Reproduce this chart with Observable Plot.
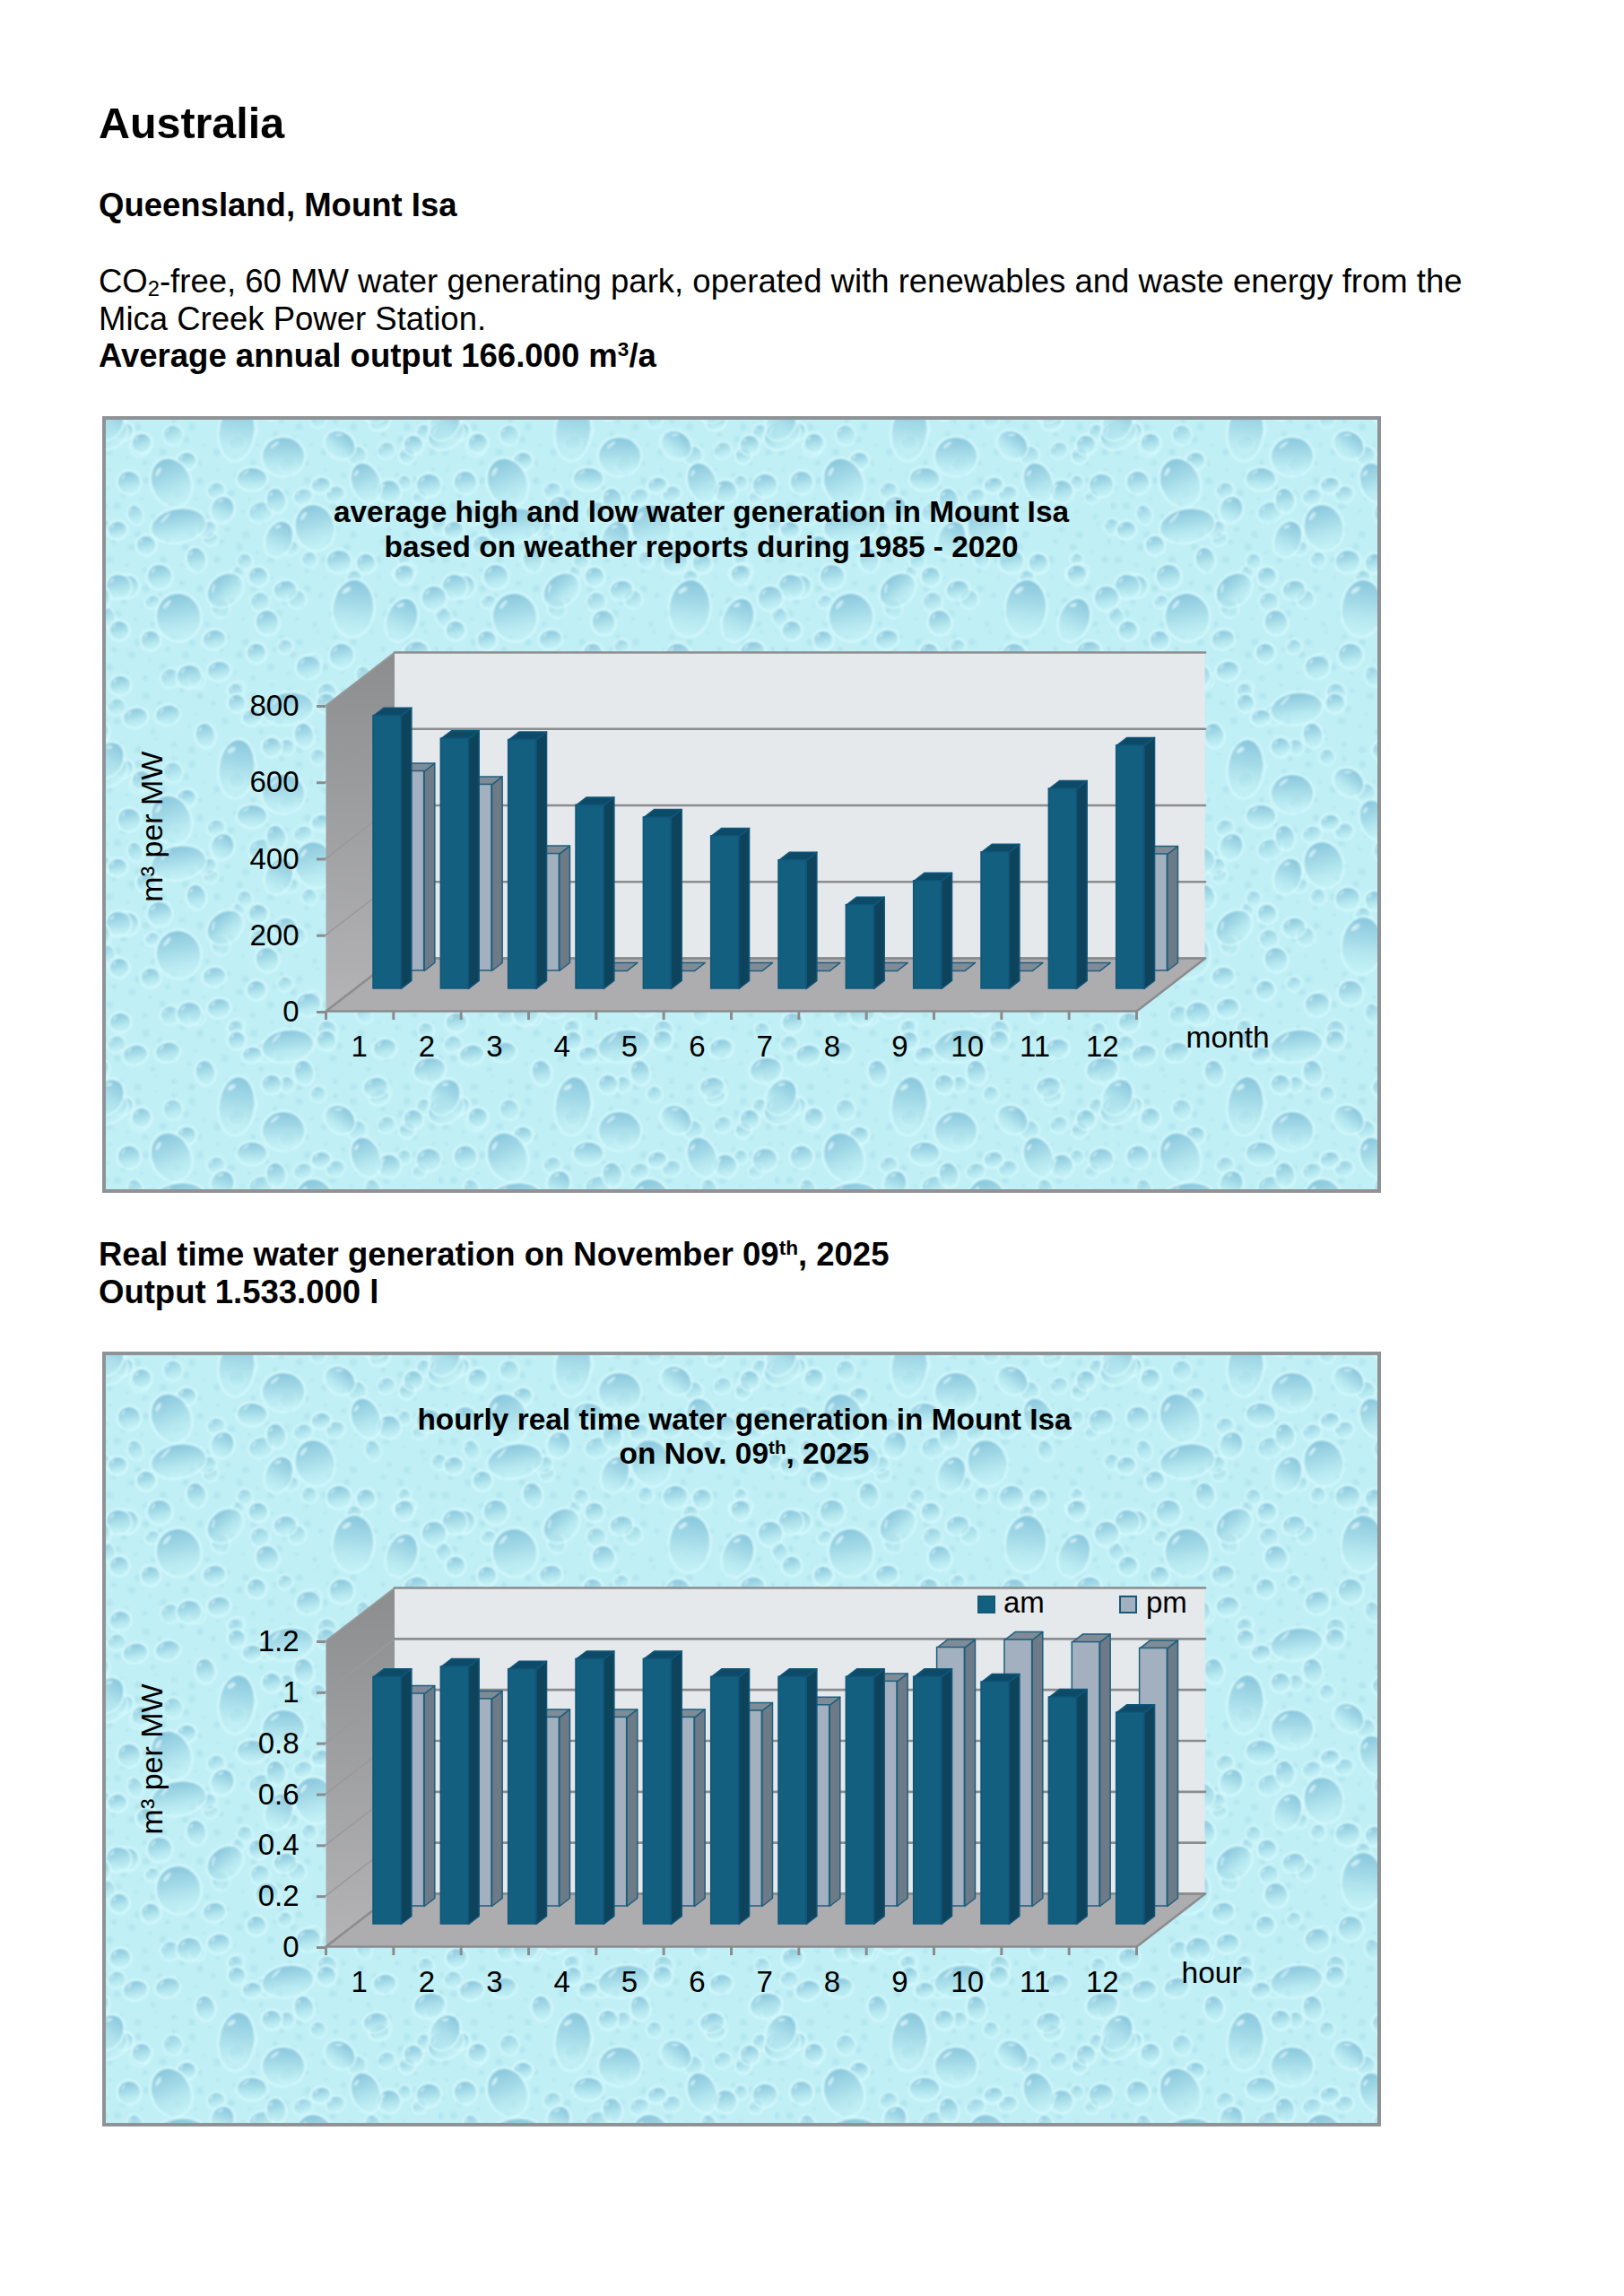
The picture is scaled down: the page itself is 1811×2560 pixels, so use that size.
<!DOCTYPE html>
<html><head><meta charset="utf-8">
<script src="https://cdn.jsdelivr.net/npm/d3@7"></script>
<script src="https://cdn.jsdelivr.net/npm/@observablehq/plot@0.6"></script>
<style>
html,body{margin:0;padding:0;background:#fff;color:#000;font-family:"Liberation Sans",Arial,sans-serif}
#page{position:relative;width:1811px;height:2560px;overflow:hidden}
.t{position:absolute;left:110px;white-space:nowrap;line-height:1;transform:translateY(-0.845em)}
.b{font-weight:bold}
.sup{font-size:.62em;position:relative;top:-.55em}
.sub{font-size:.65em;position:relative;top:.2em}
.frame{position:absolute;left:114px;width:1426px;box-sizing:border-box;border:4px solid #8f9396;overflow:hidden}
.frame .inner{position:absolute;left:-4px;top:-4px;width:1426px;height:866px}
.frame svg{position:absolute;left:0;top:0;background:transparent;overflow:visible}
.ct{position:absolute;font-weight:bold;font-size:33.4px;line-height:38.5px;text-align:center;white-space:nowrap;transform:translateX(-50%)}
.lg{position:absolute;width:20px;height:20px;box-sizing:border-box;border:2px solid #145a78}
.lt{position:absolute;font-size:33px;line-height:1;white-space:nowrap}
</style></head><body><div id="page"></div>
<script>
// --- data ---
const months = [1,2,3,4,5,6,7,8,9,10,11,12];
const highValues = [714,654,651,480,448,399,336,219,282,357,523,636];
const lowValues  = [522,487,306,0,0,0,0,0,0,0,0,305];
const monthTicks = [0,200,400,600,800];

const hours = [1,2,3,4,5,6,7,8,9,10,11,12];
const amValues = [0.97,1.01,1.00,1.04,1.04,0.97,0.97,0.97,0.97,0.95,0.89,0.83];
const pmValues = [0.834,0.813,0.741,0.741,0.741,0.767,0.789,0.882,1.015,1.045,1.036,1.012];
const hourTicks = [0,0.2,0.4,0.6,0.8,1,1.2];

const colors = {
  wallBack:"#e6e9ec", floor:"#adadb0", grid:"#8b8c8e",
  amFront:"#135f80", amSide:"#0e435c", amTop:"#0d4a68", amStroke:"#11567a",
  pmFront:"#a3b0bf", pmSide:"#6d7a88", pmTop:"#7f8c97", pmStroke:"#1f5f7c"
};

// --- water-drop wallpaper (decoration only) ---
const bigDrops = [[150,17,19,32,6],[202,45,23,21,0],[77,74,21,27,-22],[265,32,17,14,35],[294,74,15,22,-20],[85,122,30,18,-10],
[237,124,21,25,-15],[197,137,14,20,22],[85,224,24,26,-10],[280,214,22,31,5],[137,194,21,16,-40],[167,70,16,12,0],[134,104,12,14,20],
[334,227,16,24,20],[8,20,20,15,-30],[207,326,28,17,-8],[7,7,15,20,30]];
const midDrops = [[94,50,10,9],[24,17,10,9],[30,74,12,12],[17,127,10,9],[44,30,10,10],[49,144,10,10],[105,160,10,13],[64,179,13,13],
[27,190,13,12],[19,239,10,10],[54,250,10,10],[125,249,12,10],[184,230,12,13],[204,194,12,10],[174,179,10,10],[150,30,8,8],[264,162,13,12],
[294,164,10,10],[337,174,12,8],[364,77,13,12],[320,84,12,12],[340,44,8,8],[309,7,10,8],[244,77,10,8],[194,94,10,13],[347,32,10,10],
[393,190,13,13],[370,203,13,13],[337,177,10,10],[172,264,10,10],[230,280,13,12],[267,267,13,13],[130,284,12,10],[97,290,13,12],[365,353,17,13],
[115,356,10,13],[37,336,13,10],[73,333,13,10],[315,329,12,10],[167,336,10,8],[189,369,10,10],[225,356,10,13],[305,372,13,10],[350,262,13,10],[250,320,10,10],[20,300,11,10],[150,320,9,9]];
function dropSvg(list){
  return list.map(([x,y,rx,ry,r=-12]) => {
    let out = "";
    for (const ox of [0,-375,375]) for (const oy of [0,-376,376]) {
      const cx=x+ox, cy=y+oy;
      if (cx<-40||cx>415||cy<-40||cy>416) continue;
      out += `<g transform="translate(${cx} ${cy}) rotate(${r})"><ellipse rx="${rx+1.5}" ry="${ry+1.5}" fill="none" stroke="#d8fbfd" stroke-width="2.4" opacity=".75"/><ellipse rx="${rx}" ry="${ry}" fill="url(#d)"/>`
        + `<ellipse cx="${-rx*.42}" cy="${-ry*.62}" rx="${Math.max(1.8,rx*.26)}" ry="${Math.max(1,ry*.08)}" transform="rotate(-38 ${-rx*.42} ${-ry*.62})" fill="#f0ffff" opacity=".6"/></g>`;
    }
    return out;
  }).join("");
}
const fillDrops = midDrops.map(([x,y,rx,ry]) => [(x+187)%375,(y+130)%376,rx*.75,ry*.8,-20]);
const tiny = [];
for (let i=0;i<19;i++) for (let j=0;j<19;j++) tiny.push(`<circle cx="${(i*20+(j%2)*9+(j%3)*4)%375}" cy="${(j*20+(i%3)*6)%376}" r="${1.6+((i+j)%3)*1.1}" fill="#9bd6e4" opacity=".35"/>`);
const tile = `<svg xmlns="http://www.w3.org/2000/svg" width="375" height="376" viewBox="0 0 375 376"><defs><filter id="b" x="-5%" y="-5%" width="110%" height="110%"><feGaussianBlur stdDeviation="1"/></filter><linearGradient id="d" x1="0" y1="0" x2="0" y2="1"><stop offset="0" stop-color="#8ac7dd"/><stop offset=".5" stop-color="#aadfea"/><stop offset="1" stop-color="#c4f2f7" stop-opacity=".4"/></linearGradient></defs><rect width="375" height="376" fill="#c0eff5"/><g filter="url(#b)">${tiny.join("")}<g opacity=".75">${dropSvg(fillDrops)}</g>${dropSvg(midDrops)}${dropSvg(bigDrops)}</g></svg>`;
const texture = `url("data:image/svg+xml,${encodeURIComponent(tile)}")`;

// --- oblique 3-D projection expressed in scale units ---
function chart({cats, front, back, ticks, yMax, yLabel, yLabelAt, xLabel, xLabelDx, top, frameH}) {
  const kx = 1.0155, ky = yMax * 59/341;
  const P = (c,v,z) => ({x:c+z*kx, y:v+z*ky});
  const poly = (id,pts) => pts.map(p => ({id, x:p.x, y:p.y}));
  const barLeft = .273, barW = .408;
  const faces = (vals, z0, z1) => {
    const side=[], topF=[], fr=[];
    vals.forEach((v,i) => {
      const a=i+barLeft, b=a+barW;
      side.push(...poly(i,[P(b,0,z0),P(b,0,z1),P(b,v,z1),P(b,v,z0)]));
      topF.push(...poly(i,[P(a,v,z0),P(b,v,z0),P(b,v,z1),P(a,v,z1)]));
      fr.push({x1:P(a,0,z0).x, x2:P(b,0,z0).x, y1:P(a,0,z0).y, y2:P(a,v,z0).y});
    });
    return {side,topF,fr};
  };
  const n = cats.length;
  const leftWall = poly(0,[P(0,0,0),P(0,0,1),P(0,yMax,1),P(0,yMax,0)]);
  const floor = poly(0,[P(0,0,0),P(n,0,0),P(n,0,1),P(0,0,1)]);
  const backWall = [{x1:P(0,0,1).x,x2:P(n,0,1).x,y1:P(0,0,1).y,y2:P(0,yMax,1).y}];
  const gridBack = ticks.flatMap((t,i)=>poly(i,[P(0,t,1),P(n,t,1)]));
  const gridLeft = ticks.flatMap((t,i)=>poly(i,[P(0,t,0),P(0,t,1)]));
  const back3 = faces(back,.763,.915), front3 = faces(front,.424,.576);
  const polyM = (d,fill,stroke,sw=1.5) => Plot.line(d,{x:"x",y:"y",z:"id",curve:"linear-closed",fill,stroke,strokeWidth:sw});
  const defs = () => {
    const s = d3.create("svg:defs");
    const g = s.append("linearGradient").attr("id","wallGrad").attr("x1",0).attr("y1",0).attr("x2",0).attr("y2",1);
    g.append("stop").attr("offset",0).attr("stop-color","#8c8d8f");
    g.append("stop").attr("offset",1).attr("stop-color","#b4b4b6");
    return s.node();
  };
  const fig = Plot.plot({
    width:1426, height:866,
    marginLeft:249, marginRight:273, marginTop:322, marginBottom:203,
    style:{background:"transparent",fontFamily:"'Liberation Sans',Arial,sans-serif",overflow:"visible"},
    x:{type:"linear",domain:[0,n],axis:null},
    y:{type:"linear",domain:[0,yMax],axis:null},
    marks:[
      defs,
      Plot.rect(backWall,{x1:"x1",x2:"x2",y1:"y1",y2:"y2",fill:colors.wallBack}),
      polyM(leftWall,"url(#wallGrad)","none",0),
      Plot.line(gridLeft,{x:"x",y:"y",z:"id",stroke:"#9a9a9c",strokeWidth:1.6}),
      polyM(floor,colors.floor,colors.grid,2.5),
      Plot.line(gridBack,{x:"x",y:"y",z:"id",stroke:colors.grid,strokeWidth:2.6}),
      polyM(back3.side,colors.pmSide,colors.pmStroke),
      polyM(back3.topF,colors.pmTop,colors.pmStroke),
      Plot.rect(back3.fr,{x1:"x1",x2:"x2",y1:"y1",y2:"y2",fill:colors.pmFront,stroke:colors.pmStroke,strokeWidth:1.5}),
      polyM(front3.side,colors.amSide,colors.amStroke),
      polyM(front3.topF,colors.amTop,colors.amStroke),
      Plot.rect(front3.fr,{x1:"x1",x2:"x2",y1:"y1",y2:"y2",fill:colors.amFront,stroke:colors.amStroke,strokeWidth:1.5}),
      Plot.axisY({ticks,tickSize:10,tickPadding:20,fontSize:33,label:null,stroke:colors.grid,strokeWidth:3,fill:"#000",dy:1,tickFormat:d=>String(d)}),
      Plot.axisX({ticks:d3.range(n+1),tickSize:10,label:null,tickFormat:()=>"",stroke:colors.grid,strokeWidth:3}),
      Plot.text(cats,{x:(d,i)=>i+.5,y:()=>0,dy:40,dx:-.5,fontSize:33,fill:"#000",text:d=>String(d)}),
      Plot.text([xLabel],{x:()=>n,y:()=>0,dx:xLabelDx,dy:30,fontSize:33.5,fill:"#000",textAnchor:"start",text:d=>d}),
      Plot.text([yLabel],{x:()=>0,y:()=>yLabelAt,dx:-193,rotate:-90,fontSize:34,fill:"#000",text:d=>d})
    ]
  });
  const f = document.createElement("div");
  f.className="frame"; f.style.top=top+"px"; f.style.height=frameH+"px";
  const inner = document.createElement("div");
  inner.className="inner"; inner.style.backgroundImage=texture;
  inner.append(fig);
  f.append(inner);
  return f;
}

const page = document.getElementById("page");
const addT = (html,base,size,bold) => {
  const d=document.createElement("div");
  d.className="t"+(bold?" b":"");
  d.style.top=base+"px"; d.style.fontSize=size+"px"; d.innerHTML=html;
  page.append(d);
};
addT("Australia",154,48.4,true);
addT("Queensland, Mount Isa",241.5,36.5,true);
addT('CO<span class="sub">2</span>-free, 60 MW water generating park, operated with renewables and waste energy from the',326.5,36.5);
addT("Mica Creek Power Station.",368.5,36.5);
addT('Average annual output 166.000 m<span class="sup">3</span>/a',410,36.5,true);
addT('Real time water generation on November 09<span class="sup">th</span>, 2025',1412,36.5,true);
addT("Output 1.533.000 l",1453.5,36.5,true);

const c1 = chart({cats:months, front:highValues, back:lowValues, ticks:monthTicks, yMax:800, yLabel:"m³ per MW", yLabelAt:483, xLabel:"month", xLabelDx:55, top:464, frameH:866});
page.append(c1);
const c2 = chart({cats:hours, front:amValues, back:pmValues, ticks:hourTicks, yMax:1.2, yLabel:"m³ per MW", yLabelAt:0.736, xLabel:"hour", xLabelDx:50, top:1506.5, frameH:864});
page.append(c2);

const addTitle = (frame,html,cx,topPx)=>{
  const d=document.createElement("div"); d.className="ct";
  d.style.left=cx+"px"; d.style.top=topPx+"px"; d.innerHTML=html;
  frame.firstChild.append(d);
};
addTitle(c1,'average high and low water generation in Mount Isa<br>based on weather reports during 1985 - 2020',668,88);
addTitle(c2,'hourly real time water generation in Mount Isa<br>on Nov. 09<span class="sup">th</span>, 2025',716,57);

const lg = (name,fill,sx,tx)=>{
  const s=document.createElement("div"); s.className="lg";
  s.style.left=sx+"px"; s.style.top="272.5px"; s.style.background=fill;
  const t=document.createElement("div"); t.className="lt"; t.textContent=name;
  t.style.left=tx+"px"; t.style.top="263.5px";
  c2.firstChild.append(s,t);
};
lg("am",colors.amFront,976,1005);
lg("pm",colors.pmFront,1134,1164);
</script></body></html>
